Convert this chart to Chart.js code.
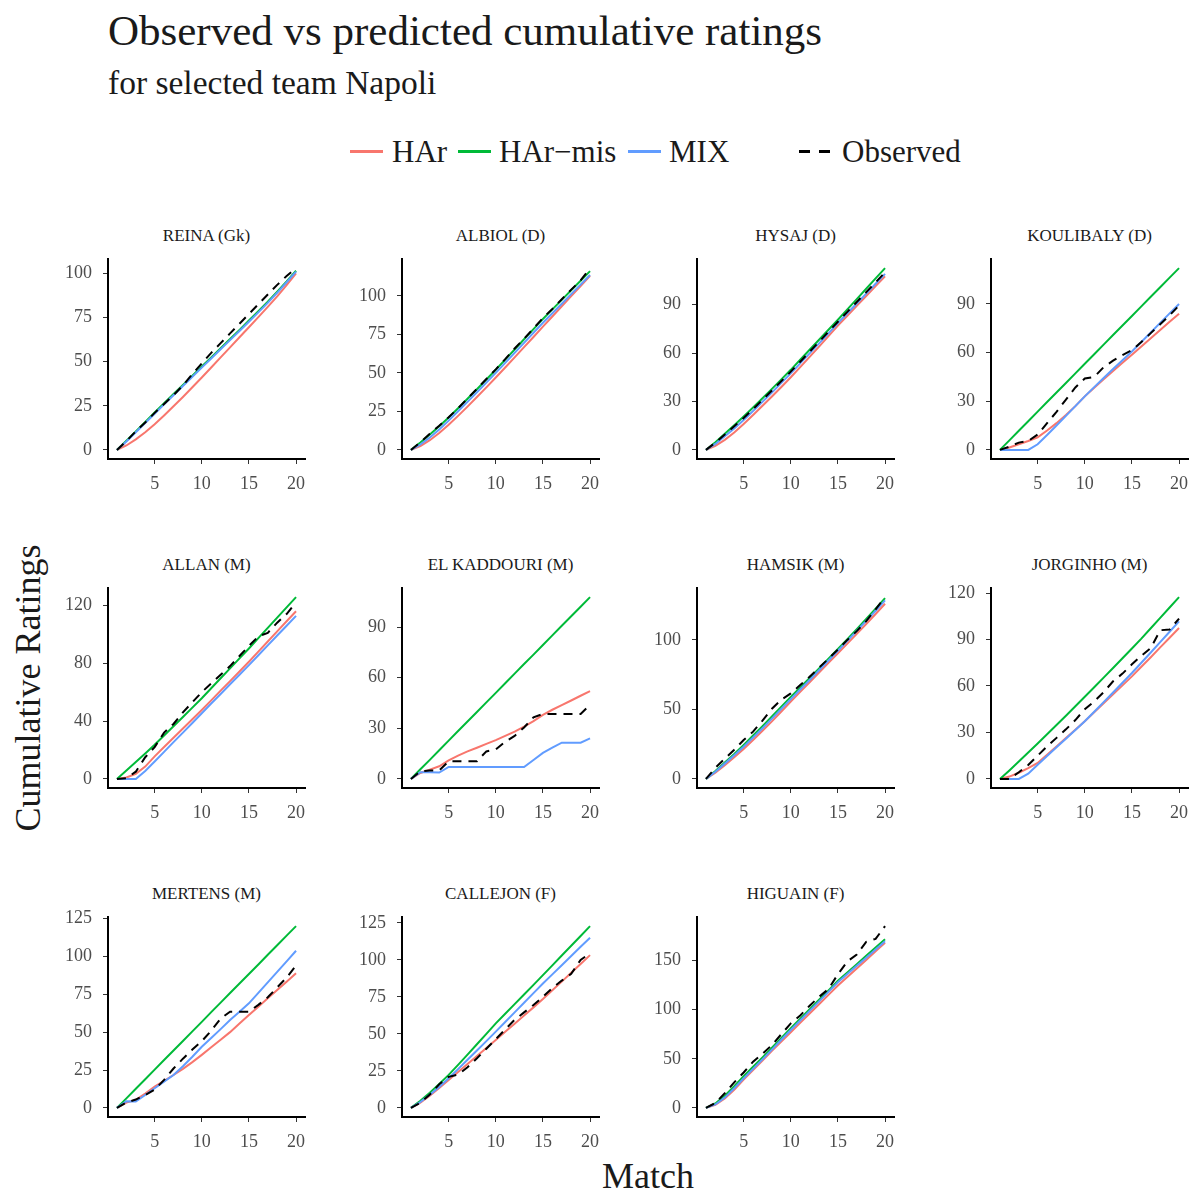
<!DOCTYPE html>
<html>
<head>
<meta charset="utf-8">
<script src="https://cdn.jsdelivr.net/npm/chart.js@4.4.1/dist/chart.umd.min.js"></script>
<style>
body { margin: 0; background: #fff; width: 1192px; height: 1191px; overflow: hidden; position: relative;
       font-family: 'Liberation Serif', 'Times New Roman', serif; color: #1a1a1a; }
.txt { position: absolute; white-space: nowrap; line-height: 1; }
.ptitle { position: absolute; width: 197px; text-align: center; font-size: 17px; line-height: 1; white-space: nowrap; }
.key { position: absolute; height: 2.5px; }
canvas { position: absolute; }
</style>
</head>
<body>
<div class="txt" style="left:108px;top:9px;font-size:43px;">Observed vs predicted cumulative ratings</div>
<div class="txt" style="left:108px;top:66px;font-size:33.5px;">for selected team Napoli</div>

<div class="key" style="left:350px;top:150px;width:33px;background:#F8766D"></div>
<div class="txt" style="left:392px;top:136px;font-size:31px;">HAr</div>
<div class="key" style="left:458px;top:150px;width:33px;background:#00BA38"></div>
<div class="txt" style="left:499px;top:136px;font-size:31px;">HAr&minus;mis</div>
<div class="key" style="left:628px;top:150px;width:33px;background:#619CFF"></div>
<div class="txt" style="left:669px;top:136px;font-size:31px;">MIX</div>
<div class="key" style="left:799px;top:150px;width:11px;background:#000"></div>
<div class="key" style="left:819px;top:150px;width:11px;background:#000"></div>
<div class="txt" style="left:842px;top:136px;font-size:31px;">Observed</div>

<div class="txt" style="left:28px;top:688px;font-size:36px;transform:translate(-50%,-50%) rotate(-90deg);">Cumulative Ratings</div>
<div class="txt" style="left:648px;top:1158px;font-size:36px;transform:translateX(-50%);">Match</div>

<script>
// --- DATA ---
const matches = [1,2,3,4,5,6,7,8,9,10,11,12,13,14,15,16,17,18,19,20];
const xTickValues = [5, 10, 15, 20];

const players = ['REINA (Gk)', 'ALBIOL (D)', 'HYSAJ (D)', 'KOULIBALY (D)',
                 'ALLAN (M)', 'EL KADDOURI (M)', 'HAMSIK (M)', 'JORGINHO (M)',
                 'MERTENS (M)', 'CALLEJON (F)', 'HIGUAIN (F)'];

const yTickValues = [
    [0, 25, 50, 75, 100],
    [0, 25, 50, 75, 100],
    [0, 30, 60, 90],
    [0, 30, 60, 90],
    [0, 40, 80, 120],
    [0, 30, 60, 90],
    [0, 50, 100],
    [0, 30, 60, 90, 120],
    [0, 25, 50, 75, 100, 125],
    [0, 25, 50, 75, 100, 125],
    [0, 50, 100, 150]
];

const harValues = [
    [0,2.5,6,10,14.5,19.5,24.7,30,35.5,41,46.7,52.4,58.1,63.8,69.5,75.2,81,87,93.4,100],
    [0,2.5,6.3,11,16.3,22.1,28.1,34.3,40.6,47,53.5,60.1,66.7,73.3,80,86.6,93.2,99.8,106.4,113],
    [0,2.5,6.2,10.8,16,21.6,27.3,33.1,39,45,51.3,57.6,64,70.5,77,83.1,89.2,95.3,101.4,107.5],
    [0,1.5,3.5,5.5,7.8,12,16.5,21.5,27,33,38.3,43.5,48.6,53.7,58.7,63.8,68.8,73.9,79,84],
    [0,1,3.5,8.5,15.6,22,28.5,34.9,41.3,47.7,54.3,61,67.6,74.3,81,88,95,102,109,115.9],
    [0,3.5,5.5,7.5,11,13.8,16.3,18.5,20.8,23,25.5,28,31,34.3,38,41,43.8,46.5,49.3,52],
    [0,4.5,9.8,15.5,21.5,28,34.6,41.4,48.5,55.7,62.6,69.5,76.5,83.5,90.4,97.3,104.3,111.4,118.6,126],
    [0,1.5,4,7,10.3,15.6,21,26.4,31.8,37.2,43,48.8,54.6,60.4,66.2,72.4,78.6,84.9,91.1,97.4],
    [0,3.5,5.3,9.5,14,17.8,21.7,25.8,30.2,35,40,45,50,55.7,61.3,66.8,72.3,77.8,83.3,88.8],
    [0,3.6,8.3,13.4,18.9,24.2,29.6,35,40.4,45.9,51.4,56.9,62.4,67.9,73.5,79.4,85.3,91.3,97.2,103.2],
    [0,3,9.5,18.5,28.9,38.6,48.3,58,67.5,77,86.5,96,105.5,115,124.5,133.2,141.9,150.6,159.3,168]
];

const harMisValues = [
    [0,5.2,10.5,15.8,21.2,26.5,31.7,36.8,42,47.2,52.4,57.6,62.8,68,73.3,78.6,84,89.6,95.4,101.5],
    [0,4.8,10,15.4,21,27,33.2,39.4,45.7,52,58.6,65.2,71.8,78.4,85,91.2,97.4,103.6,109.8,116],
    [0,4.8,10,15.3,20.7,26.3,32,37.8,43.7,49.6,55.8,62,68.2,74.4,80.6,87,93.4,99.8,106.2,112.6],
    [0,5.9,11.8,17.7,23.6,29.5,35.4,41.3,47.2,53.1,59,64.9,70.8,76.7,82.6,88.5,94.4,100.3,106.2,112.1],
    [0,5.8,11.7,17.6,23.6,30,36.4,42.8,49.3,55.8,62.7,69.6,76.4,83.3,90.2,97.3,104.4,111.5,118.6,125.7],
    [0,5.7,11.3,17,22.7,28.4,34,39.7,45.4,51,56.7,62.4,68.1,73.7,79.4,85.1,90.8,96.4,102.1,107.8],
    [0,5.7,11.8,18,24.5,31.2,38,45,52,59,65.8,72.6,79.5,86.5,93.5,100.6,107.8,115,122.5,130],
    [0,5.5,11.2,17,22.9,28.8,34.8,40.8,46.9,53,59.2,65.4,71.6,77.9,84.2,90.6,97.3,104,110.7,117.4],
    [0,6.3,12.6,18.9,25.3,31.6,37.9,44.2,50.5,56.8,63.2,69.5,75.8,82.1,88.4,94.7,101.1,107.4,113.7,120],
    [0,4.8,10.3,16.2,22.3,29.1,36,43,50,57.1,63.6,70.1,76.6,83.1,89.7,96.3,102.9,109.5,116.1,122.8],
    [0,4.5,12.5,22,32.3,41.8,51.4,61.3,71.2,81.2,90.8,100.4,110,119.6,129.3,137.8,146.3,154.8,163.2,171.6]
];

const mixValues = [
    [0,4.8,10,15.2,20.5,25.8,31,36.2,41.4,46.6,51.8,57,62.2,67.4,72.6,77.9,83.3,89,95,101],
    [0,3.5,8,13.3,19,25.1,31.2,37.4,43.7,50,56.5,63,69.5,76,82.5,88.7,94.9,101.1,107.3,113.5],
    [0,3.7,8.4,13.3,18.5,24.1,29.8,35.6,41.5,47.4,53.6,59.8,66,72.2,78.5,84.6,90.7,96.8,102.9,109],
    [0,0,0,0,3.5,9.2,15,21,27,33,38.7,44.3,49.9,55.3,60.7,66.5,72.4,78.3,84.2,90],
    [0,0,0,5.5,12,18.7,25.4,32,38.7,45.4,52.1,58.7,65.4,72,78.7,85.5,92.3,99.1,105.9,112.7],
    [0,4,4,3.8,7.1,7.1,7.1,7.1,7.1,7.1,7.1,7.1,7.1,11.2,15.4,18.5,21.5,21.5,21.5,24],
    [0,5.2,11,17,23.2,29.8,36.5,43.4,50.4,57.4,64.3,71.2,78.2,85.2,92.2,99.3,106.5,113.7,121,128.4],
    [0,0,0,3.4,9.2,14.8,20.4,26,31.6,37.2,43.4,49.6,55.8,62.1,68.4,75,81.6,88.3,95,101.7],
    [0,4.4,4.2,8.5,13,17.3,21.7,27.5,33.8,40.4,46.2,52,58,63.5,69,75.9,82.8,89.8,96.7,103.7],
    [0,4,8.9,14.2,20,26.2,32.5,38.8,45.1,51.5,58,64.5,71,77.5,84,90.2,96.4,102.6,108.8,114.9],
    [0,3.5,10.5,20,30,39.7,49.4,59.3,69.3,79.3,89,98.7,108.4,118.1,127.8,136.2,144.6,152.9,161.2,169.5]
];

const observedValues = [
    [0,5,10.5,15.5,21,26,31,36.5,43,49,55,60.5,66,71.5,77,82.5,88,93.5,98.5,103],
    [0,5,10.5,15.7,21.2,27,33.3,39.6,46,52.3,58.9,65.8,72.2,78.8,85.6,91.5,97.8,104,110,118],
    [0,4.5,9.5,14.7,19.8,25.3,31,36.8,42.6,48.5,54.6,60.8,67,73.2,79.4,85.5,91.6,97.7,103.8,110],
    [0,2,4.5,5.5,9.5,16.5,23.5,31,38.5,44,45,51,55,58.5,61.5,66.5,72,77.5,83,89],
    [0,0.5,5,15,22,32,38,46,53,60,66,72,78,85,92,98.5,101,108,114,122],
    [0,4.5,5,5,10.5,10.5,10.5,10.5,16.3,17.5,22,25.5,30.5,36.5,38.5,38.5,38.5,38.5,38.5,44],
    [0,8,14.5,21,28,34,42,50.5,57,61.5,67.5,73.5,80,86.5,93,100,106.3,113.5,122,130.8],
    [0,0,4.3,9,15,21,26.5,32,38,45,50,56,63,68,74,79.5,84.5,96,96.5,103.5],
    [0,3.5,5.5,8.5,12,18.5,26,32.5,38.5,44,51,59,63.5,63.5,63.5,68,73,79.5,86,94],
    [0,3.5,9,16,21,22.5,27.5,33.5,40,46.5,53,59.5,64.5,69.5,75,81,86,90.5,100,104.5],
    [0,5,15,26,36,47,55,64,75,86,94,104,113,121,136,149,156,169,172,185]
];

// --- PANEL GEOMETRY ---
const colX = [108, 402, 697, 991];
const rowTop = [259, 588, 917];
const plotW = 197, plotH = 200;
const yAxisW = 70, xAxisH = 37, padTop = 28, padRight = 12;

const serif = "'Liberation Serif', 'Times New Roman', serif";
Chart.defaults.font.family = serif;

function toPoints(values) {
    return matches.map((m, i) => ({ x: m, y: values[i] }));
}

function buildPanel(i) {
    const col = i % 4;
    const row = Math.floor(i / 4);

    const title = document.createElement('div');
    title.className = 'ptitle';
    title.style.left = colX[col] + 'px';
    title.style.top = (rowTop[row] - 32) + 'px';
    title.innerText = players[i];
    document.body.appendChild(title);

    const canvas = document.createElement('canvas');
    canvas.width = yAxisW + plotW + padRight;
    canvas.height = padTop + plotH + xAxisH;
    canvas.style.left = (colX[col] - yAxisW) + 'px';
    canvas.style.top = (rowTop[row] - padTop) + 'px';
    document.body.appendChild(canvas);

    const all = [].concat(harValues[i], harMisValues[i], mixValues[i], observedValues[i]);
    const yMin = Math.min(...all), yMax = Math.max(...all);
    const yPad = (yMax - yMin) * 0.05;

    const tickFont = { family: serif, size: 18 };

    new Chart(canvas, {
        type: 'line',
        data: {
            datasets: [
                { label: 'Observed', data: toPoints(observedValues[i]), borderColor: '#000000',
                  borderDash: [9, 7], borderWidth: 2, order: 0 },
                { label: 'MIX', data: toPoints(mixValues[i]), borderColor: '#619CFF', borderWidth: 2, order: 1 },
                { label: 'HAr-mis', data: toPoints(harMisValues[i]), borderColor: '#00BA38', borderWidth: 2, order: 2 },
                { label: 'HAr', data: toPoints(harValues[i]), borderColor: '#F8766D', borderWidth: 2, order: 3 }
            ]
        },
        options: {
            responsive: false,
            animation: false,
            devicePixelRatio: 1,
            layout: { padding: { top: padTop, right: padRight, left: 0, bottom: 0 }, autoPadding: false },
            elements: { point: { radius: 0 }, line: { tension: 0, fill: false } },
            plugins: { legend: { display: false }, tooltip: { enabled: false }, title: { display: false } },
            scales: {
                x: {
                    type: 'linear',
                    min: 1 - 0.95, max: 20 + 0.95,
                    afterBuildTicks: s => { s.ticks = xTickValues.map(v => ({ value: v })); },
                    afterFit: s => { s.height = xAxisH; },
                    ticks: { font: tickFont, color: '#4d4d4d', padding: 9, maxRotation: 0, autoSkip: false },
                    grid: { drawOnChartArea: false, drawTicks: true, tickLength: 5, color: '#333333', lineWidth: 1 },
                    border: { display: true, color: '#000000', width: 2 }
                },
                y: {
                    type: 'linear',
                    min: yMin - yPad, max: yMax + yPad,
                    afterBuildTicks: s => { s.ticks = yTickValues[i].map(v => ({ value: v })); },
                    afterFit: s => { s.width = yAxisW; },
                    ticks: { font: tickFont, color: '#4d4d4d', padding: 11, autoSkip: false },
                    grid: { drawOnChartArea: false, drawTicks: true, tickLength: 5, color: '#333333', lineWidth: 1 },
                    border: { display: true, color: '#000000', width: 2 }
                }
            }
        }
    });
}

players.forEach((p, i) => buildPanel(i));
</script>
</body>
</html>
